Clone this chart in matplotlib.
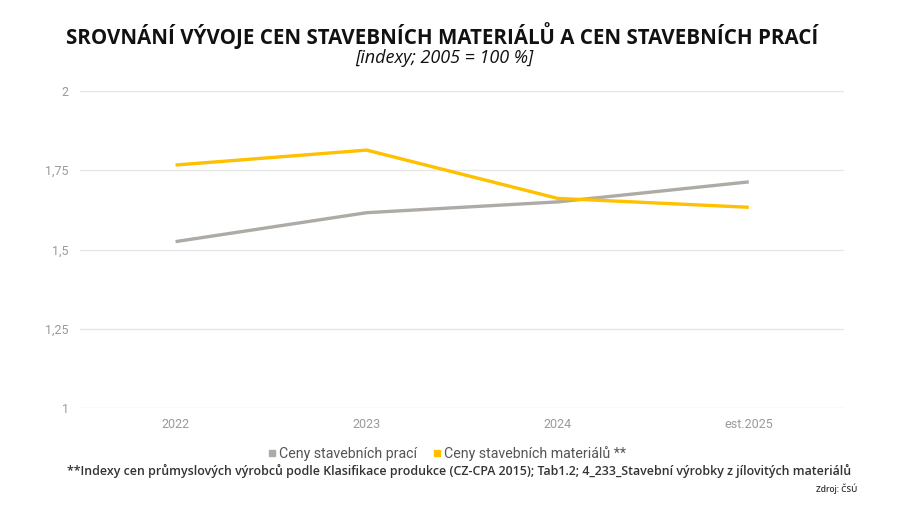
import matplotlib.pyplot as plt
from matplotlib.lines import Line2D

# Data
years = ["2022", "2023", "2024", "est.2025"]
prace = [1.525, 1.616, 1.650, 1.713]
materialy = [1.766, 1.813, 1.661, 1.633]
y_ticks = [1, 1.25, 1.5, 1.75, 2]
y_labels = ["1", "1,25", "1,5", "1,75", "2"]

GRAY = "#AEAAA6"
GOLD = "#FFC000"

plt.rcParams["font.family"] = ["Roboto", "DejaVu Sans"]

fig = plt.figure(figsize=(9.04, 5.08), dpi=100)
ax = fig.add_axes([0.0885, 0.196, 0.8455, 0.6255])

x = range(len(years))
ax.plot(x, prace, color=GRAY, lw=2.4, solid_capstyle="butt")
ax.plot(x, materialy, color=GOLD, lw=2.4, solid_capstyle="butt")

ax.set_xlim(-0.5, len(years) - 0.5)
ax.set_ylim(1, 2)
ax.set_yticks(y_ticks)
ax.set_yticklabels(y_labels)
ax.set_xticks(list(x))
ax.set_xticklabels(years)
ax.tick_params(length=0, colors="#9a9a9a", labelsize=9)
ax.tick_params(axis="y", pad=8)
ax.tick_params(axis="x", pad=7)
ax.grid(axis="y", color="#e6e6e6", lw=1)
ax.set_axisbelow(True)
for s in ax.spines.values():
    s.set_visible(False)

# Titles
fig.text(0.489, 0.93, "SROVNÁNÍ VÝVOJE CEN STAVEBNÍCH MATERIÁLŮ A CEN STAVEBNÍCH PRACÍ",
         ha="center", va="center", fontsize=14.8, fontweight="bold", color="#111111",
         family=["Open Sans", "DejaVu Sans"])
fig.text(0.491, 0.886, "[indexy; 2005 = 100 %]", ha="center", va="center",
         fontsize=13, style="italic", color="#111111", family=["Open Sans", "DejaVu Sans"])

# Legend
handles = [
    Line2D([], [], marker="s", ls="none", color=GRAY, markersize=5),
    Line2D([], [], marker="s", ls="none", color=GOLD, markersize=5),
]
fig.legend(handles, ["Ceny stavebních prací", "Ceny stavebních materiálů **"],
           loc="center", bbox_to_anchor=(0.494, 0.108), ncol=2, frameon=False,
           fontsize=10.2, handletextpad=0.1, columnspacing=1.0, labelcolor="#555555",
           handlelength=0.8)

fig.text(0.508, 0.072,
         "**Indexy cen průmyslových výrobců podle Klasifikace produkce (CZ-CPA 2015); Tab1.2; 4_233_Stavební výrobky z jílovitých materiálů",
         ha="center", va="center", fontsize=8.9, fontweight="semibold", color="#333333",
         family=["Open Sans", "DejaVu Sans"])
fig.text(0.948, 0.037, "Zdroj: ČSÚ", ha="right", va="center", fontsize=6,
         fontweight="semibold", color="#333333", family=["Open Sans", "DejaVu Sans"])

fig.savefig("out.png", dpi=100, facecolor="white")
